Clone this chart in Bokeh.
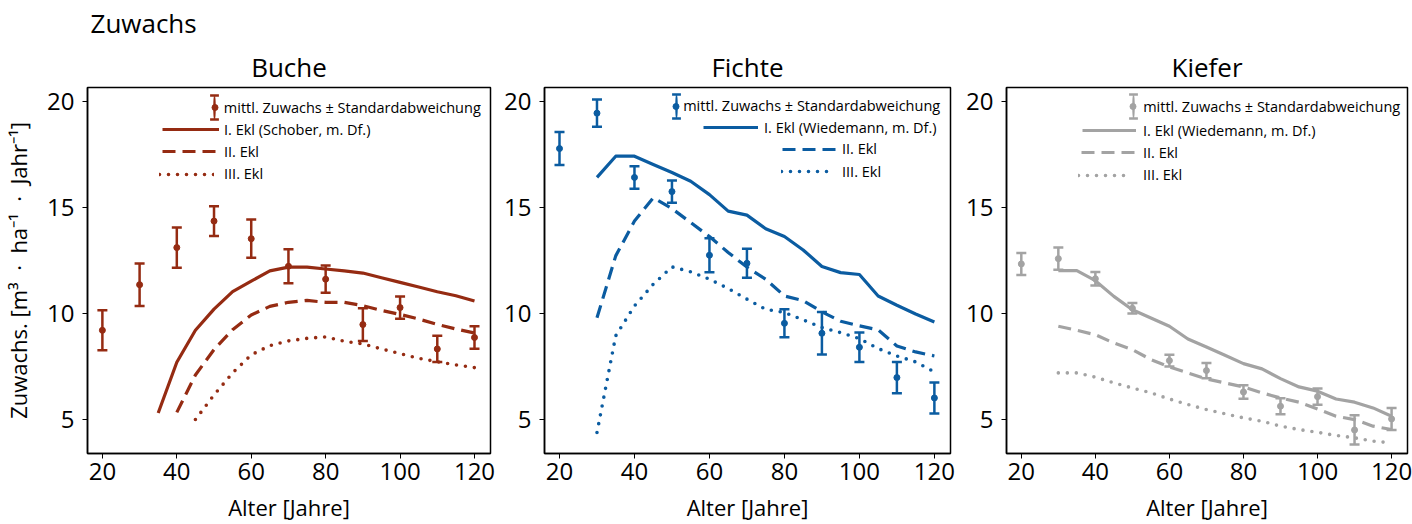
from bokeh.plotting import figure
from bokeh.models import ColumnDataSource, Legend, LegendItem, Title, FixedTicker, Range1d
from bokeh.layouts import row
from bokeh.embed import file_html
from bokeh.resources import INLINE

FONT = "Open Sans"

# ---------------- data ----------------
age_obs = [20, 30, 40, 50, 60, 70, 80, 90, 100, 110, 120]

buche_mean = [9.21, 11.36, 13.11, 14.36, 13.53, 12.23, 11.62, 9.48, 10.28, 8.33, 8.87]
buche_sd = [0.94, 1.00, 0.95, 0.70, 0.90, 0.80, 0.64, 0.77, 0.52, 0.62, 0.53]
fichte_mean = [17.78, 19.45, 16.42, 15.75, 12.75, 12.37, 9.54, 9.07, 8.41, 6.98, 6.02]
fichte_sd = [0.78, 0.64, 0.53, 0.53, 0.80, 0.68, 0.66, 1.00, 0.70, 0.74, 0.73]
kiefer_mean = [12.34, 12.59, 11.64, 10.25, 7.78, 7.31, 6.30, 5.63, 6.08, 4.51, 5.03]
kiefer_sd = [0.52, 0.53, 0.32, 0.25, 0.28, 0.36, 0.32, 0.38, 0.38, 0.69, 0.52]

age_buche_1 = [35, 40, 45, 50, 55, 60, 65, 70, 75, 80, 85, 90, 95, 100, 105, 110, 115, 120]
buche_1 = [5.31, 7.70, 9.21, 10.21, 11.03, 11.53, 12.01, 12.19, 12.19, 12.10, 12.01, 11.91,
           11.69, 11.47, 11.25, 11.03, 10.84, 10.59]
age_buche_2 = [40, 45, 50, 55, 60, 65, 70, 75, 80, 85, 90, 95, 100, 105, 110, 115, 120]
buche_2 = [5.34, 7.10, 8.30, 9.24, 9.93, 10.34, 10.53, 10.62, 10.53, 10.53, 10.37, 10.15,
           9.96, 9.74, 9.49, 9.27, 9.08]
age_buche_3 = [45, 50, 55, 60, 65, 70, 75, 80, 85, 90, 95, 100, 105, 110, 115, 120]
buche_3 = [5.00, 6.16, 7.20, 8.05, 8.49, 8.71, 8.83, 8.90, 8.69, 8.57, 8.33, 8.11,
           7.89, 7.73, 7.58, 7.45]

age_yt = [30, 35, 40, 45, 50, 55, 60, 65, 70, 75, 80, 85, 90, 95, 100, 105, 110, 115, 120]
fichte_1 = [16.42, 17.42, 17.42, 17.03, 16.65, 16.24, 15.61, 14.83, 14.64, 14.00, 13.63, 13.00,
            12.22, 11.93, 11.84, 10.83, 10.39, 9.98, 9.60]
fichte_2 = [9.80, 12.72, 14.36, 15.46, 14.95, 14.29, 13.63, 12.88, 12.19, 11.62, 10.83, 10.61,
            10.08, 9.64, 9.42, 9.23, 8.47, 8.19, 8.00]
fichte_3 = [4.39, 8.95, 10.36, 11.38, 12.20, 11.97, 11.62, 11.18, 10.68, 10.20, 10.05, 9.70,
            9.34, 9.10, 8.82, 8.35, 8.00, 7.72, 7.25]
kiefer_1 = [12.02, 12.02, 11.55, 10.81, 10.18, 9.79, 9.40, 8.80, 8.42, 8.03, 7.64, 7.39,
            6.93, 6.54, 6.34, 5.97, 5.82, 5.55, 5.16]
kiefer_2 = [9.40, 9.21, 9.00, 8.61, 8.30, 7.83, 7.48, 7.20, 6.92, 6.73, 6.54, 6.26,
            6.02, 5.82, 5.50, 5.16, 5.00, 4.69, 4.53]
kiefer_3 = [7.20, 7.20, 7.00, 6.73, 6.49, 6.26, 5.97, 5.71, 5.47, 5.27, 5.08, 4.92,
            4.69, 4.53, 4.40, 4.25, 4.14, 3.98, 3.90]

x_ticks = [20, 40, 60, 80, 100, 120]
y_ticks = [5, 10, 15, 20]

err_label = "mittl. Zuwachs ± Standardabweichung"
labels_buche = [err_label, "I. Ekl (Schober, m. Df.)", "II. Ekl", "III. Ekl"]
labels_wied = [err_label, "I. Ekl (Wiedemann, m. Df.)", "II. Ekl", "III. Ekl"]

BUCHE_C = "#952B12"
FICHTE_C = "#0B5CA1"
KIEFER_C = "#A3A3A3"

DOT = "0 9"
NB = "\u00a0"

# ---------------- layout (page pixels) ----------------
FRAME_BOTTOM = 455
# legend placement: error item (x centre, y centre, label x), line items (left, right, label x, y centre)
LEG_BUCHE = dict(err=(212.3, 109.3, 222),
                 lines=[(160, 217, 222, 131.3), (160, 215, 222, 153.3), (157, 212, 222, 175.7)])
LEG_FICHTE = dict(err=(675.7, 107.7, 683),
                  lines=[(703, 758, 764, 129.3), (782, 837, 842, 150.7), (781, 832, 842, 173.3)])
LEG_KIEFER = dict(err=(1132.7, 108.3, 1143),
                  lines=[(1082, 1136, 1143, 132.3), (1081, 1136, 1143, 154), (1078, 1130, 1143, 176.7)])


def add_legend(p, renderers, label, left, yc, gw, gh, standoff, frame_left, fsize="14.5px"):
    leg = Legend(items=[LegendItem(label=label, renderers=renderers)],
                 location=(left - frame_left, FRAME_BOTTOM - (yc + gh / 2.0)),
                 label_text_font=FONT, label_text_font_size=fsize, label_text_color="black",
                 glyph_width=int(round(gw)), glyph_height=int(round(gh)),
                 label_height=int(round(gh)), label_standoff=max(0, int(round(standoff))),
                 spacing=0, padding=0, margin=0,
                 border_line_color=None, background_fill_alpha=0)
    p.add_layout(leg, "center")


def make_panel(title, color, mean, sd, lines, labels, width, bl, br, frame_left, legpos,
               ylabel=None, sup=" "):
    p = figure(width=width, height=524, output_backend="svg",
               toolbar_location=None, x_range=Range1d(16, 124.3), y_range=Range1d(3.4, 20.66),
               min_border_left=bl, min_border_right=br, min_border_top=10, min_border_bottom=69)
    # outer (top) title: overall heading or spacer
    p.title.text = sup
    p.title.align = "left"
    p.title.offset = 3
    p.title.standoff = 5
    p.title.text_font = FONT
    p.title.text_font_size = "26px"
    p.title.text_font_style = "normal"
    p.title.text_color = "black"
    # inner title: panel name
    p.add_layout(Title(text=title, align="center", text_font=FONT, text_font_size="26px",
                       text_font_style="normal", text_color="black", standoff=6), "above")
    p.grid.visible = False
    p.outline_line_color = "black"
    p.outline_line_width = 1.5
    p.background_fill_color = "white"
    p.border_fill_color = "white"
    for ax in (p.xaxis, p.yaxis):
        ax.axis_line_color = "black"
        ax.axis_line_width = 1.5
        ax.major_tick_line_color = "black"
        ax.major_tick_line_width = 1
        ax.major_tick_out = 5
        ax.major_tick_in = 0
        ax.minor_tick_line_color = None
        ax.major_label_text_font = FONT
        ax.major_label_text_font_size = "24px"
        ax.major_label_text_color = "black"
        ax.axis_label_text_font = FONT
        ax.axis_label_text_font_size = "22px"
        ax.axis_label_text_font_style = "normal"
        ax.axis_label_text_color = "black"
    p.xaxis.ticker = FixedTicker(ticks=x_ticks)
    p.yaxis.ticker = FixedTicker(ticks=y_ticks)
    p.xaxis.major_label_standoff = 4
    p.yaxis.major_label_standoff = 8
    p.xaxis.axis_label = "Alter [Jahre]"
    p.xaxis.axis_label_standoff = 9
    if ylabel:
        p.yaxis.axis_label = ylabel
        p.yaxis.axis_label_standoff = 11

    lo = [m - s for m, s in zip(mean, sd)]
    hi = [m + s for m, s in zip(mean, sd)]
    src = ColumnDataSource(dict(x=age_obs, y=mean, lo=lo, hi=hi))
    p.segment(x0="x", y0="lo", x1="x", y1="hi", source=src, line_color=color, line_width=2.5)
    p.scatter(x="x", y="lo", source=src, marker="dash", size=10, line_color=color, line_width=2.5)
    p.scatter(x="x", y="hi", source=src, marker="dash", size=10, line_color=color, line_width=2.5)
    p.scatter(x="x", y="y", source=src, marker="circle", size=6, fill_color=color, line_color=color)

    dashes = ["solid", "13 7", DOT]
    rends = []
    for (xs, ys), d in zip(lines, dashes):
        r = p.line(xs, ys, line_color=color, line_width=3.2 if d != DOT else 3.6,
                   line_dash=d, line_cap="round" if d == DOT else "butt",
                   line_join="round")
        rends.append(r)

    # legend proxies for the error-bar symbol (outside the visible ranges)
    dummy = ColumnDataSource(dict(x=[-1000], y=[-1000]))
    r_bar = p.ellipse(x="x", y="y", source=dummy, width=2.5, height=30, width_units="screen",
                      height_units="screen", fill_color=color, line_color=color, line_width=0.5)
    r_cap = p.scatter(x="x", y="y", source=dummy, marker="dash", size=9,
                      line_color=color, line_width=2.5)
    r_pt = p.scatter(x="x", y="y", source=dummy, marker="circle", size=6,
                     fill_color=color, line_color=color)

    ex, ey, elx = legpos["err"]
    add_legend(p, [r_bar], " ", ex - 15, ey, 30, 30, 0, frame_left)
    add_legend(p, [r_cap], " ", ex - 11, ey - 12, 22, 22, 0, frame_left)
    add_legend(p, [r_cap], " ", ex - 11, ey + 12, 22, 22, 0, frame_left)
    add_legend(p, [r_pt], labels[0], ex - 7.5, ey, 15, 20, elx - (ex + 7.5), frame_left)
    for (gl, gr, lx, yc), lab, r in zip(legpos["lines"], labels[1:], rends):
        add_legend(p, [r], lab, gl, yc, gr - gl, 20, lx - gr, frame_left)
    return p


p1 = make_panel("Buche", BUCHE_C, buche_mean, buche_sd,
                [(age_buche_1, buche_1), (age_buche_2, buche_2), (age_buche_3, buche_3)],
                labels_buche, 500, 85, 10, 85, LEG_BUCHE,
                ylabel=f"Zuwachs. [m³{NB}{NB}·{NB}{NB}ha⁻¹{NB}{NB}·{NB}{NB}Jahr⁻¹]", sup="Zuwachs")
p2 = make_panel("Fichte", FICHTE_C, fichte_mean, fichte_sd,
                [(age_yt, fichte_1), (age_yt, fichte_2), (age_yt, fichte_3)],
                labels_wied, 462, 44, 12, 544, LEG_FICHTE)
p3 = make_panel("Kiefer", KIEFER_C, kiefer_mean, kiefer_sd,
                [(age_yt, kiefer_1), (age_yt, kiefer_2), (age_yt, kiefer_3)],
                labels_wied, 450, 44, 5, 1006, LEG_KIEFER)

layout = row(p1, p2, p3)
open("out.html", "w").write(file_html(layout, INLINE))
